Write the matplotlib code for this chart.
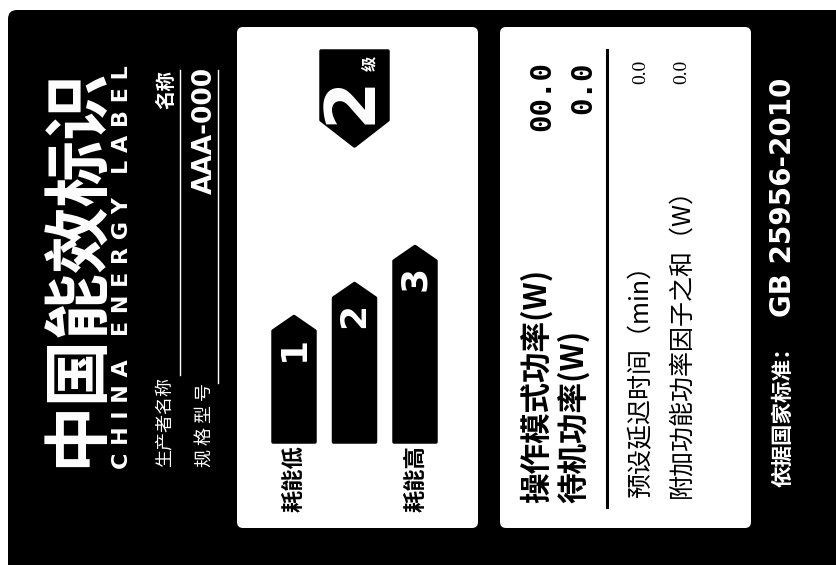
import matplotlib
matplotlib.use("Agg")
import matplotlib.pyplot as plt
from matplotlib.patches import FancyBboxPatch, Polygon
from matplotlib.lines import Line2D

# ---------------- data ----------------
title_cn = "中国能效标识"
title_en = "C H I N A   E N E R G Y   L A B E L"
maker_label = "生产者名称"
maker_value = "名称"
model_label = "规 格 型 号"
model_value = "AAA-000"
grades = ["1", "2", "3"]
bar_lengths = [128, 161, 198]
current_grade = "2"
grade_unit = "级"
end_labels = ["耗能低", "耗能高"]
main_labels = ["操作模式功率(W)", "待机功率(W)"]
main_values = ["00.0", "0.0"]
extra_labels = ["预设延迟时间（min）", "附加功能功率因子之和（W）"]
extra_values = ["0.0", "0.0"]
footer_cn = "依据国家标准："
footer_std = "GB 25956-2010"

CJK = ["Noto Sans CJK SC", "DejaVu Sans"]

fig = plt.figure(figsize=(8.37, 5.65), dpi=100)
ax = fig.add_axes([0, 0, 1, 1])
ax.set_xlim(0, 837)
ax.set_ylim(565, 0)
ax.axis("off")
fig.patch.set_facecolor("white")


def vtext(x, y, s, size, start=True, color="white", weight="normal", family=None, ha=None):
    ax.text(x, y, s, rotation=90, rotation_mode="anchor",
            ha=ha if ha else ("left" if start else "right"), va="center",
            fontsize=size, color=color, fontweight=weight,
            family=family if family else CJK)


def rbox(x0, y0, x1, y1, r, color):
    ax.add_patch(FancyBboxPatch((x0, y0), x1 - x0, y1 - y0,
                                boxstyle=f"round,pad=0,rounding_size={r}",
                                fc=color, ec="none"))


# outer black label
rbox(8, 10, 845, 575, 9, "black")
# white panels
rbox(237, 27, 478, 528, 6, "white")
rbox(500, 27, 751, 528, 6, "white")

# ---------------- header ----------------
vtext(77, 267, title_cn, 48, color="white", weight="bold", ha="center")
vtext(122, 267, title_en, 16, color="white", weight="bold", family="DejaVu Sans", ha="center")

vtext(165, 467, maker_label, 13)
vtext(167, 70, maker_value, 14, start=False, weight="bold")
ax.add_line(Line2D([180, 180], [70, 375], color="white", lw=1.0))

vtext(205, 467, model_label, 13)
vtext(205, 67, model_value, 19, start=False, weight="bold", family="DejaVu Sans")
ax.add_line(Line2D([218, 218], [70, 383], color="white", lw=1.0))

# ---------------- grade bars ----------------
bottom = 443
bar_w = 44
tip_h = 16
for i, (g, L) in enumerate(zip(grades, bar_lengths)):
    x0 = 272 + i * 60.5
    x1 = x0 + bar_w
    xc = (x0 + x1) / 2
    tip = bottom - L
    sh = tip + tip_h
    pts = [(x0 + 1, bottom - 1), (x0 + 1, sh), (xc, tip + 1.5), (x1 - 1, sh), (x1 - 1, bottom - 1)]
    ax.add_patch(Polygon(pts, closed=True, fc="black", ec="black", lw=2.5, joinstyle="round"))
    ax.text(xc, tip + 33, g, rotation=90, rotation_mode="anchor", ha="center", va="center",
            fontsize=26, color="white", fontweight="bold", family="DejaVu Sans")

# end labels
vtext(294, 512, end_labels[0], 16, color="black", weight="bold")
vtext(416, 512, end_labels[1], 16, color="black", weight="bold")

# current grade indicator
ix0, ix1 = 320, 389
ixc = (ix0 + ix1) / 2
ind = [(ix0 + 1, 51), (ix1 - 1, 51), (ix1 - 1, 120), (ixc, 146), (ix0 + 1, 120)]
ax.add_patch(Polygon(ind, closed=True, fc="black", ec="black", lw=2.5, joinstyle="round"))
ax.text(351, 100, current_grade, rotation=90, rotation_mode="anchor", ha="center", va="center",
        fontsize=50, color="white", fontweight="bold", family="DejaVu Sans")
ax.text(369, 63, grade_unit, rotation=90, rotation_mode="anchor", ha="center", va="center",
        fontsize=11, color="white", fontweight="bold", family=CJK)

# ---------------- parameters ----------------
vtext(537, 503, main_labels[0], 22, color="black", weight="bold")
vtext(574, 503, main_labels[1], 22, color="black", weight="bold")
vtext(542, 61, main_values[0], 21, start=False, color="black", weight="bold", family="DejaVu Sans Mono")
vtext(583, 61, main_values[1], 21, start=False, color="black", weight="bold", family="DejaVu Sans Mono")
ax.add_line(Line2D([607, 607], [50, 507], color="black", lw=2.2))

vtext(641, 498, extra_labels[0], 18, color="black")
vtext(682, 498, extra_labels[1], 18, color="black")
vtext(641, 60, extra_values[0], 14, start=False, color="black", family="Liberation Serif")
vtext(682, 60, extra_values[1], 14, start=False, color="black", family="Liberation Serif")

# ---------------- footer ----------------
vtext(783, 487, footer_cn, 15.5, color="white", weight="bold")
vtext(783, 78, footer_std, 20, start=False, color="white", weight="bold", family="DejaVu Sans")

fig.savefig("out.png", dpi=100, facecolor="white")
